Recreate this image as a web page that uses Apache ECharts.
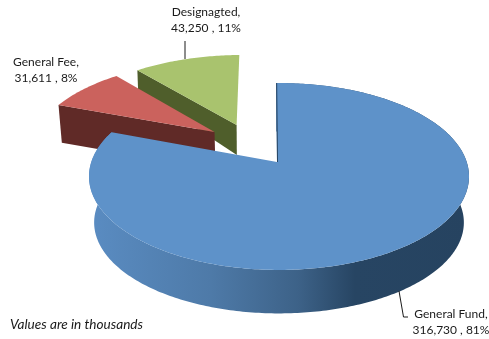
<!DOCTYPE html>
<html>
<head>
<meta charset="utf-8">
<style>html,body{margin:0;padding:0;background:#fff}#chart{width:489px;height:339px}</style>
<script src="https://cdn.jsdelivr.net/npm/echarts@6/dist/echarts.min.js"></script>
</head>
<body>
<div id="chart"></div>
<script>
// Budget by fund type, clockwise from twelve o'clock
const categories = ['General Fund', 'General Fee', 'Designagted'];
const amounts = [316730, 31611, 43250];
const note = 'Values are in thousands';

const total = amounts.reduce((a, b) => a + b, 0);
const fmt = new Intl.NumberFormat('en-US');

// Projection of the pie's unit disc onto the page (perspective from the front)
const origin = { x: 279, y: 162 };
const scaleX = 187.7, scaleY = 91.2, tilt = 0.155;
const firstAngle = -1 * Math.PI / 180;
const project = (u, v) => {
  const w = 1 + tilt * v;
  return [scaleX * u / w, -scaleY * v / w];
};

// Look of each slice: offset on the disc, extrusion and fills
const looks = [
  { du: 0, dv: 0, tipDx: -2, depth: 46.4, tipDepth: 46.4, shrink: 0.973, top: '#5E92C9', side: '#264360' },
  { du: -0.362, dv: 0.347, tipDx: 0, depth: 37, tipDepth: 37, shrink: 0.985, top: '#CB625D', side: '#602A27' },
  { du: -0.241, dv: 0.434, tipDx: 0, depth: 19, tipDepth: 30, shrink: 0.995, top: '#A9C36E', side: '#4F5E2B' }
];

// Text blocks around the pie
const labelSpots = [
  { x: 451, y: 322 },
  { x: 46, y: 70 },
  { x: 206, y: 20 }
];
const rimFill = {
  type: 'linear', x: 89, y: 0, x2: 469, y2: 0, global: true,
  colorStops: [
    { offset: 0, color: '#5A8CC2' },
    { offset: 0.32, color: '#4E7AA8' },
    { offset: 0.55, color: '#3D6288' },
    { offset: 0.7, color: '#274563' },
    { offset: 1, color: '#264360' }
  ]
};

const topPoint = (look, angle, r) => {
  const [x, y] = project(look.du + r * Math.sin(angle), look.dv + r * Math.cos(angle));
  return [origin.x + x + (r ? 0 : look.tipDx), origin.y + y];
};
const basePoint = (look, angle, r) => {
  const [x, y] = project(look.du + r * Math.sin(angle), look.dv + r * Math.cos(angle));
  return [origin.x + x * look.shrink + (r ? 0 : look.tipDx), origin.y + y * look.shrink + (r ? look.depth : look.tipDepth)];
};
const arc = (fn, look, a0, a1) => {
  const steps = Math.max(2, Math.ceil(Math.abs(a1 - a0) / 0.015));
  const pts = [];
  for (let i = 0; i <= steps; i++) pts.push(fn(look, a0 + (a1 - a0) * i / steps, 1));
  return pts;
};

function renderSlice(params, api) {
  const idx = params.dataIndex;
  const value = api.value(0);
  const before = amounts.slice(0, idx).reduce((a, b) => a + b, 0);
  const a0 = firstAngle + before / total * Math.PI * 2;
  const a1 = a0 + value / total * Math.PI * 2;
  const look = looks[idx];
  const order = (3 - idx) * 10;
  const children = [];

  const tip = topPoint(look, 0, 0);
  const tipBase = basePoint(look, 0, 0);
  const rimTop = arc(topPoint, look, a0, a1);
  const rimBase = arc(basePoint, look, a0, a1);

  if (idx === 0) {
    // outer wall of the large slice, then the thin wall along its 12 o'clock cut
    children.push({
      type: 'polygon', z2: order,
      shape: { points: rimTop.concat(rimBase.slice().reverse()) },
      style: { fill: rimFill }
    });
    children.push({
      type: 'line', z2: order + 2,
      shape: { x1: rimTop[0][0] + 0.5, y1: rimTop[0][1], x2: tip[0] + 0.5, y2: tip[1] },
      style: { stroke: '#264360', lineWidth: 1 }
    });
  } else {
    // cut face seen on the exploded slices
    const corner = rimTop[0], cornerBase = rimBase[0];
    children.push({
      type: 'polygon', z2: order,
      shape: { points: [tip, corner, cornerBase, tipBase] },
      style: { fill: look.side }
    });
  }

  children.push({
    type: 'polygon', z2: order + 1,
    shape: { points: [tip].concat(rimTop) },
    style: { fill: look.top }
  });

  const spot = labelSpots[idx];
  children.push({
    type: 'text', z2: 100,
    style: {
      x: spot.x, y: spot.y, align: 'center', verticalAlign: 'middle',
      text: categories[idx] + ',\n' + fmt.format(value) + ' , ' + Math.round(value / total * 100) + '%',
      font: '12px Lato', lineHeight: 16, fill: '#1a1a1a'
    }
  });
  return { type: 'group', children };
}

const leader = (points) => ({
  type: 'polyline', z: 5, silent: true,
  shape: { points },
  style: { stroke: '#1a1a1a', lineWidth: 1, fill: null }
});

const chart = echarts.init(document.getElementById('chart'), null, { renderer: 'canvas' });
chart.setOption({
  animation: false,
  backgroundColor: '#fff',
  series: [{
    type: 'custom',
    coordinateSystem: 'none',
    renderItem: renderSlice,
    data: amounts.map((v, i) => ({ name: categories[i], value: [v] }))
  }],
  graphic: [
    leader([[185, 41], [185, 59]]),
    leader([[399, 291], [403.5, 317], [408, 317]]),
    {
      type: 'text', left: 10, top: 318, silent: true,
      style: { text: note, font: 'italic 13.6px Lato', fill: '#1a1a1a' }
    }
  ]
});
</script>
</body>
</html>
